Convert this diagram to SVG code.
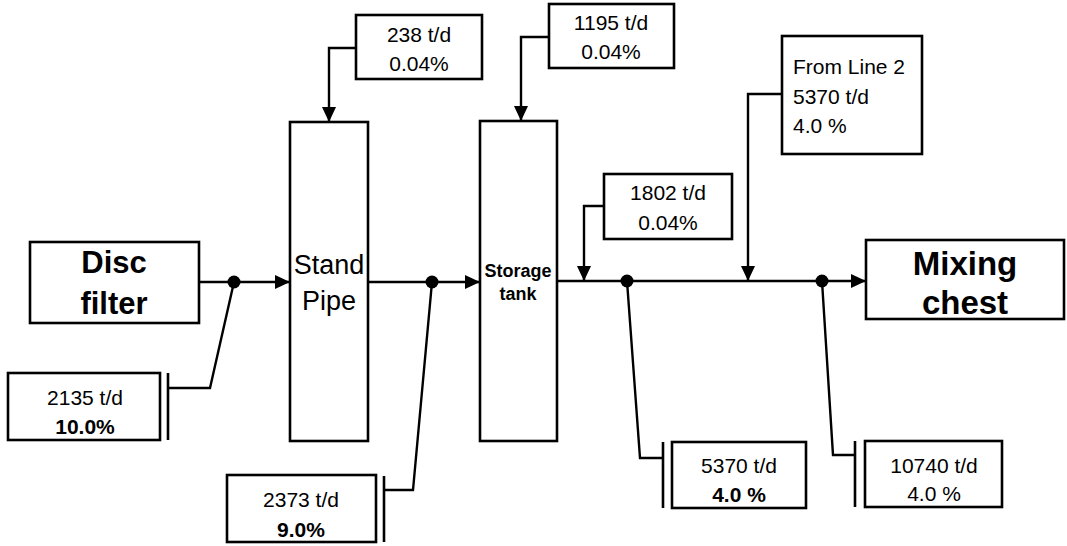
<svg xmlns="http://www.w3.org/2000/svg" width="1067" height="546" viewBox="0 0 1067 546">
<style>
.box{fill:#fff;stroke:#000;stroke-width:2.6}
.ln{fill:none;stroke:#000;stroke-width:2.4}
.bar{stroke:#000;stroke-width:2.6}
.t{font-family:"Liberation Sans",Arial,sans-serif;font-size:21px;fill:#000;text-anchor:middle}
.tl{font-family:"Liberation Sans",Arial,sans-serif;font-size:21px;fill:#000}
.b{font-weight:bold}
.big{font-family:"Liberation Sans",Arial,sans-serif;font-size:31px;font-weight:bold;fill:#000;text-anchor:middle}
.mid{font-family:"Liberation Sans",Arial,sans-serif;font-size:27px;fill:#000;text-anchor:middle}
.sm{font-family:"Liberation Sans",Arial,sans-serif;font-size:18px;font-weight:bold;fill:#000;text-anchor:middle}
</style>
<defs>
<marker id="arr" markerUnits="userSpaceOnUse" markerWidth="16" markerHeight="16" viewBox="0 0 16 16" refX="15" refY="8" orient="auto">
<path d="M0,1 L15,8 L0,15 Z" fill="#000"/>
</marker>
</defs>
<rect width="1067" height="546" fill="#fff"/>

<g id="connectors">
<line class="ln" x1="199" y1="282" x2="290" y2="282" marker-end="url(#arr)"/>
<line class="ln" x1="368" y1="282" x2="480" y2="282" marker-end="url(#arr)"/>
<line class="ln" x1="557" y1="281" x2="866" y2="281" marker-end="url(#arr)"/>
<polyline class="ln" points="356,48 329,48 329,122" marker-end="url(#arr)"/>
<polyline class="ln" points="549,37 521,37 521,121" marker-end="url(#arr)"/>
<polyline class="ln" points="604,206 584,206 584,281" marker-end="url(#arr)"/>
<polyline class="ln" points="782,94 748,94 748,281" marker-end="url(#arr)"/>
<polyline class="ln" points="234,282 210,388 168,388"/>
<polyline class="ln" points="432,282 413,490 384,490"/>
<polyline class="ln" points="627,281 640,458 663,458"/>
<polyline class="ln" points="822,281 833,455 855,455"/>
<line class="bar" x1="168" y1="373" x2="168" y2="440"/>
<line class="bar" x1="384" y1="476" x2="384" y2="542"/>
<line class="bar" x1="663" y1="442" x2="663" y2="508"/>
<line class="bar" x1="855" y1="441" x2="855" y2="507"/>
<circle cx="234" cy="282" r="6.5"/>
<circle cx="432" cy="282" r="6.5"/>
<circle cx="627" cy="281" r="6.5"/>
<circle cx="822" cy="281" r="6.5"/>
</g>

<g id="disc-filter">
<rect class="box" x="30" y="242" width="169" height="81"/>
<text class="big" x="114" y="273">Disc</text>
<text class="big" x="114" y="314">filter</text>
</g>

<g id="stand-pipe">
<rect class="box" x="290" y="122" width="78" height="319"/>
<text class="mid" x="329" y="274">Stand</text>
<text class="mid" x="329" y="310">Pipe</text>
</g>

<g id="storage-tank">
<rect class="box" x="480" y="121" width="77" height="320"/>
<text class="sm" x="518" y="277">Storage</text>
<text class="sm" x="518" y="300">tank</text>
</g>

<g id="mixing-chest">
<rect class="box" x="866" y="240" width="198" height="79"/>
<text class="big" x="965" y="275" style="font-size:33px">Mixing</text>
<text class="big" x="965" y="314" style="font-size:33px">chest</text>
</g>

<g id="in-238">
<rect class="box" x="356" y="15" width="126" height="64"/>
<text class="t" x="419" y="42">238 t/d</text>
<text class="t" x="419" y="71">0.04%</text>
</g>

<g id="in-1195">
<rect class="box" x="549" y="4" width="125" height="64"/>
<text class="t" x="611" y="30">1195 t/d</text>
<text class="t" x="611" y="59">0.04%</text>
</g>

<g id="in-1802">
<rect class="box" x="604" y="174" width="128" height="65"/>
<text class="t" x="668" y="200">1802 t/d</text>
<text class="t" x="668" y="230">0.04%</text>
</g>

<g id="in-line2">
<rect class="box" x="782" y="36" width="140" height="118"/>
<text class="tl" x="793" y="74">From Line 2</text>
<text class="tl" x="793" y="104">5370 t/d</text>
<text class="tl" x="793" y="133">4.0 %</text>
</g>

<g id="out-2135">
<rect class="box" x="8" y="373" width="152" height="67"/>
<text class="t" x="85" y="405">2135 t/d</text>
<text class="t b" x="85" y="434">10.0%</text>
</g>

<g id="out-2373">
<rect class="box" x="227" y="475" width="149" height="67"/>
<text class="t" x="301" y="507">2373 t/d</text>
<text class="t b" x="301" y="537">9.0%</text>
</g>

<g id="out-5370">
<rect class="box" x="672" y="442" width="134" height="66"/>
<text class="t" x="739" y="473">5370 t/d</text>
<text class="t b" x="739" y="502">4.0 %</text>
</g>

<g id="out-10740">
<rect class="box" x="865" y="441" width="137" height="66"/>
<text class="t" x="934" y="473">10740 t/d</text>
<text class="t" x="934" y="501">4.0 %</text>
</g>
</svg>
